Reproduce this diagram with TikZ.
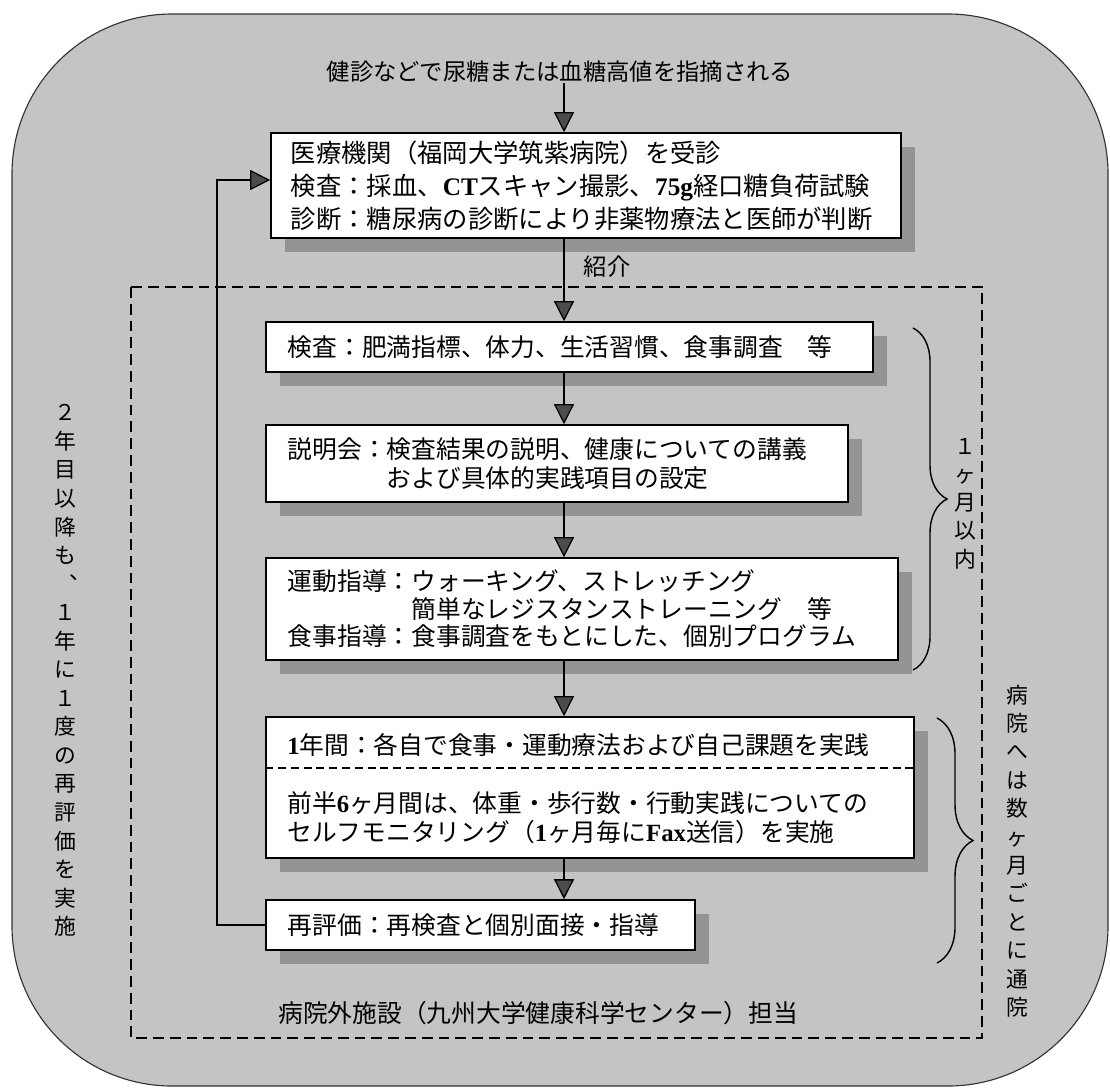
\documentclass[tikz,border=0pt]{standalone}
\usepackage{fontspec}
\setmainfont{Noto Sans CJK JP}
\newfontfamily\tmsfont{Liberation Serif}
\newcommand{\ltn}[1]{{\tmsfont\bfseries #1}}
\usetikzlibrary{arrows.meta,shadows,decorations.pathreplacing}
\begin{document}
\begin{tikzpicture}[x=0.025cm,y=-0.025cm,
  box/.style={draw=black, line width=1.1pt, fill=white, inner xsep=0.55cm, inner ysep=0pt, align=left,
    drop shadow={shadow xshift=0.35cm, shadow yshift=-0.35cm, fill=black!42, opacity=1}},
  txt/.style={inner sep=0pt},
  bodyfont/.style={font=\fontsize{17.6}{20.6}\selectfont},
  vfont/.style={font=\fontsize{15.5}{20.3}\selectfont},
  arr/.style={draw=black, line width=0.9pt, -{Triangle[width=0.5cm,length=0.5cm,fill=black!70]}},
  plain/.style={draw=black, line width=0.9pt},
  brc/.style={draw=black, line width=1pt, decorate},
  dashframe/.style={draw=black, line width=0.9pt, dash pattern=on 0.27cm off 0.15cm},
  sepline/.style={draw=black, line width=0.9pt, dash pattern=on 0.2cm off 0.12cm},
  outer/.style={draw=black!80, line width=0.8pt, fill=black!23, rounded corners=4cm}
]
\useasboundingbox (0,0) rectangle (1110,1088);
\fill[white] (0,0) rectangle (1110,1088);
\path[outer] (12,14) rectangle (1108,1086);
\path[dashframe] (131,287) rectangle (982,1038);

% coordinates
\coordinate (ax) at (564,0);
\coordinate (fbx) at (217,0);
\coordinate (fby) at (0,180);
\coordinate (sepy) at (0,768);

% top text
\node[txt, font=\fontsize{16.6}{20}\selectfont] (tt) at (560,72) {健診などで尿糖または血糖高値を指摘される};

% boxes
\node[box, minimum width=15.75cm, minimum height=2.625cm, text width=14.75cm, inner xsep=0.5cm,
      font=\fontsize{18}{23.5}\selectfont] (b1) at (586,185.5)
  {医療機関（福岡大学筑紫病院）を受診\\検査：採血、\ltn{CT}スキャン撮影、\ltn{75g}経口糖負荷試験\\診断：糖尿病の診断により非薬物療法と医師が判断};

\node[box, bodyfont, minimum width=15.175cm, minimum height=1.25cm, text width=14.075cm] (b2) at (569.5,347)
  {検査：肥満指標、体力、生活習慣、食事調査　等};

\node[box, font=\fontsize{17.6}{20.6}\selectfont, minimum width=14.55cm, minimum height=1.925cm, text width=13.45cm] (b3) at (557,463.5)
  {説明会：検査結果の説明、健康についての講義\\\hspace*{4em}および具体的実践項目の設定};

\node[box, font=\fontsize{17.6}{19.6}\selectfont, minimum width=15.8cm, minimum height=2.55cm, text width=14.7cm] (b4) at (582,609)
  {運動指導：ウォーキング、ストレッチング\\\hspace*{5em}簡単なレジスタンストレーニング　等\\食事指導：食事調査をもとにした、個別プログラム};

\node[box, minimum width=16.2cm, minimum height=3.525cm] (b5) at (590,787.5) {};
\path[sepline] (b5.west |- sepy) -- (b5.east |- sepy);
\node[txt, bodyfont, anchor=west] (b5a) at (287,745)
  {\ltn{1}年間：各自で食事・運動療法および自己課題を実践};
\node[txt, bodyfont, anchor=west, align=left] (b5b) at (287,817.5)
  {前半\ltn{6}ヶ月間は、体重・歩行数・行動実践についての\\セルフモニタリング（\ltn{1}ヶ月毎に\ltn{Fax}送信）を実施};

\node[box, bodyfont, minimum width=10.725cm, minimum height=1.25cm, text width=9.625cm] (b6) at (480.5,925)
  {再評価：再検査と個別面接・指導};

% arrows
\path[arr] (tt.south -| ax) -- (b1.north -| ax);
\path[arr] (b1.south -| ax) -- (b2.north -| ax);
\path[arr] (b2.south -| ax) -- (b3.north -| ax);
\path[arr] (b3.south -| ax) -- (b4.north -| ax);
\path[arr] (b4.south -| ax) -- (b5.north -| ax);
\path[arr] (b5.south -| ax) -- (b6.north -| ax);
\path[arr] (b6.west) -- (b6.west -| fbx) -- (fbx |- fby) -- (b1.west |- fby);

\node[txt, font=\fontsize{16.6}{20}\selectfont] (shokai) at (607,267) {紹介};

% bottom text
\node[txt, bodyfont, anchor=west] (bt) at (278,1013) {病院外施設（九州大学健康科学センター）担当};

% braces
\coordinate (br1a) at (913,328);
\coordinate (br1b) at (913,670);
\coordinate (br2a) at (937,718);
\coordinate (br2b) at (937,963);
\path[brc, decoration={brace,amplitude=0.85cm}] (br1a) -- (br1b);
\path[brc, decoration={brace,amplitude=0.9cm}] (br2a) -- (br2b);

% vertical texts
\node[txt, vfont, align=center] (lv) at (65,670.5)
  {２\\年\\目\\以\\降\\も\\\makebox[0pt]{\smash{\hspace{1.4em}\raisebox{0.6em}{、}}}\\１\\年\\に\\１\\度\\の\\再\\評\\価\\を\\実\\施};
\node[txt, font=\fontsize{15.5}{20.1}\selectfont, align=center] (rv1) at (965,503.5)
  {１\\ヶ\\月\\以\\内};
\node[txt, font=\fontsize{15.5}{20.2}\selectfont, align=center] (rv2) at (1017,851)
  {病\\院\\へ\\は\\数\\ヶ\\月\\ご\\と\\に\\通\\院};
\end{tikzpicture}
\end{document}
